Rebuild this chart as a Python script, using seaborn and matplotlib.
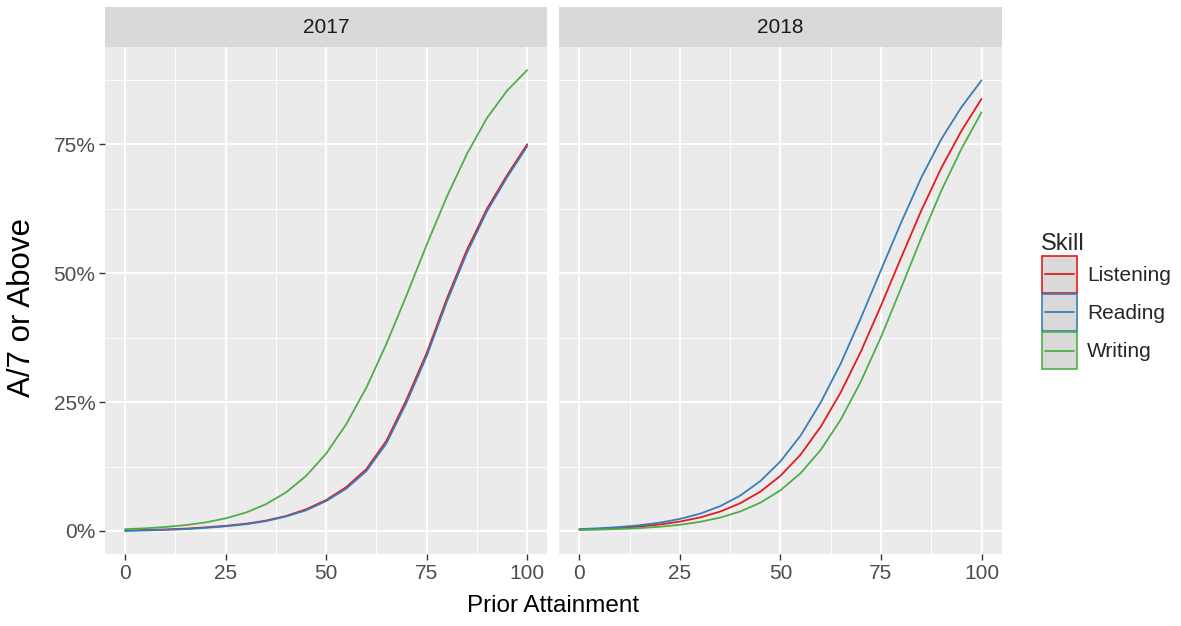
import matplotlib
matplotlib.use("Agg")
import matplotlib.pyplot as plt
import seaborn as sns
import pandas as pd
from matplotlib.patches import Rectangle
from matplotlib.lines import Line2D
from matplotlib.legend_handler import HandlerBase
from matplotlib.ticker import PercentFormatter, MultipleLocator

# Prior attainment grid shared by every fitted curve
prior = [0, 5, 10, 15, 20, 25, 30, 35, 40, 45, 50,
         55, 60, 65, 70, 75, 80, 85, 90, 95, 100]

# Share of pupils at A/7 or above (%), 2017
listening_2017 = [0.1, 0.2, 0.3, 0.45, 0.7, 1.0, 1.4, 2.0, 2.9, 4.2, 6.0,
                  8.5, 12.0, 17.5, 25.5, 34.5, 45.0, 54.5, 62.5, 69.0, 75.0]
reading_2017 = [0.0, 0.1, 0.2, 0.35, 0.6, 0.9, 1.3, 1.9, 2.8, 4.0, 5.8,
                8.2, 11.6, 17.0, 24.9, 33.9, 44.4, 53.9, 62.0, 68.6, 74.6]
writing_2017 = [0.35, 0.52, 0.77, 1.13, 1.66, 2.44, 3.56, 5.18, 7.47, 10.66, 15.0,
                20.7, 27.8, 36.3, 45.7, 55.5, 64.8, 73.1, 80.1, 85.4, 89.4]

# Share of pupils at A/7 or above (%), 2018
listening_2018 = [0.29, 0.41, 0.60, 0.87, 1.26, 1.82, 2.62, 3.76, 5.38, 7.62, 10.7,
                  14.8, 20.2, 26.9, 34.8, 43.7, 53.0, 62.1, 70.4, 77.6, 83.8]
reading_2018 = [0.36, 0.53, 0.77, 1.11, 1.61, 2.33, 3.35, 4.81, 6.86, 9.68, 13.5,
                18.5, 24.9, 32.5, 41.3, 50.6, 59.8, 68.5, 76.0, 82.2, 87.4]
writing_2018 = [0.17, 0.26, 0.38, 0.56, 0.82, 1.20, 1.77, 2.59, 3.78, 5.48, 7.89,
                11.2, 15.7, 21.6, 29.0, 37.6, 47.1, 56.8, 66.0, 74.1, 81.2]

years = ["2017", "2018"]
skills = ["Listening", "Reading", "Writing"]
series = {
    ("2017", "Listening"): listening_2017,
    ("2017", "Reading"): reading_2017,
    ("2017", "Writing"): writing_2017,
    ("2018", "Listening"): listening_2018,
    ("2018", "Reading"): reading_2018,
    ("2018", "Writing"): writing_2018,
}

rows = []
for (year, skill), values in series.items():
    for x, y in zip(prior, values):
        rows.append({"Year": year, "Skill": skill, "Prior": x, "Pct": y})
df = pd.DataFrame(rows)

palette = dict(zip(skills, ["#E41A1C", "#377EB8", "#4DAF4A"]))

sns.set_theme(style="white")
plt.rcParams["font.family"] = ["Liberation Sans", "DejaVu Sans"]

W, H = 1181, 626
fig = plt.figure(figsize=(W / 100, H / 100), dpi=100)

panel_w = 0.3745
panel_h = 0.8099
panel_b = 0.1150
lefts = [0.0889, 0.4736]
strip_h = 0.0639

all_vals = df["Pct"]
ypad = 0.05 * (all_vals.max() - all_vals.min())
ylim = (all_vals.min() - ypad, all_vals.max() + ypad)

for i, year in enumerate(years):
    ax = fig.add_axes([lefts[i], panel_b, panel_w, panel_h])
    ax.set_facecolor("#EBEBEB")
    sub = df[df["Year"] == year]
    sns.lineplot(data=sub, x="Prior", y="Pct", hue="Skill", hue_order=skills,
                 palette=palette, linewidth=1.3, legend=False, ax=ax)
    ax.set_xlim(-5, 105)
    ax.set_ylim(*ylim)
    ax.xaxis.set_major_locator(MultipleLocator(25))
    ax.xaxis.set_minor_locator(MultipleLocator(12.5))
    ax.yaxis.set_major_locator(MultipleLocator(25))
    ax.yaxis.set_minor_locator(MultipleLocator(12.5))
    ax.yaxis.set_major_formatter(PercentFormatter(xmax=100, decimals=0))
    ax.grid(which="major", color="white", linewidth=1.4)
    ax.grid(which="minor", color="white", linewidth=0.7)
    ax.set_axisbelow(True)
    for s in ax.spines.values():
        s.set_visible(False)
    ax.set_xlabel("")
    ax.set_ylabel("")
    ax.tick_params(axis="x", which="major", length=4, width=1, color="#333333",
                   labelsize=15, labelcolor="#4D4D4D", pad=3, bottom=True)
    ax.tick_params(axis="both", which="minor", length=0)
    if i == 0:
        ax.tick_params(axis="y", which="major", length=4, width=1, color="#333333",
                       labelsize=15, labelcolor="#4D4D4D", pad=3, left=True)
    else:
        ax.tick_params(axis="y", which="major", left=False, labelleft=False)

    # facet strip
    sax = fig.add_axes([lefts[i], panel_b + panel_h, panel_w, strip_h])
    sax.set_facecolor("#D9D9D9")
    sax.set_xticks([])
    sax.set_yticks([])
    for s in sax.spines.values():
        s.set_visible(False)
    sax.text(0.5, 0.5, year, ha="center", va="center", fontsize=15,
             color="#1A1A1A", transform=sax.transAxes)

fig.text(553.5 / W, 1 - 606 / H, "Prior Attainment", ha="center", va="center",
         fontsize=17.5, color="black")
fig.text(22 / W, 1 - 308 / H, "A/7 or Above", ha="center", va="center",
         rotation=90, fontsize=22.5, color="black")


class SmoothKey(HandlerBase):
    """Grey key box with a coloured outline and a centred line segment."""

    def create_artists(self, legend, orig_handle, xdescent, ydescent,
                       width, height, fontsize, trans):
        color = orig_handle.get_color()
        x0, y0 = -xdescent, -ydescent
        box = Rectangle((x0 + 0.5, y0 + 0.5), width - 1, height - 1,
                        facecolor="#D9D9D9", edgecolor=color, linewidth=1.2,
                        transform=trans)
        yc = y0 + height / 2
        line = Line2D([x0 + 0.1 * width, x0 + 0.9 * width], [yc, yc],
                      color=color, linewidth=1.3, transform=trans)
        return [box, line]


handles = [Line2D([], [], color=palette[s]) for s in skills]
fig.legend(handles, skills, title="Skill", loc="upper left",
           bbox_to_anchor=(1041 / W, 1 - 233 / H), frameon=False,
           fontsize=15, title_fontsize=17, alignment="left",
           handlelength=1.75, handleheight=2.45, labelspacing=0.0,
           handletextpad=0.45, borderpad=0, borderaxespad=0,
           handler_map={Line2D: SmoothKey()})

fig.savefig("out.png", dpi=100)
